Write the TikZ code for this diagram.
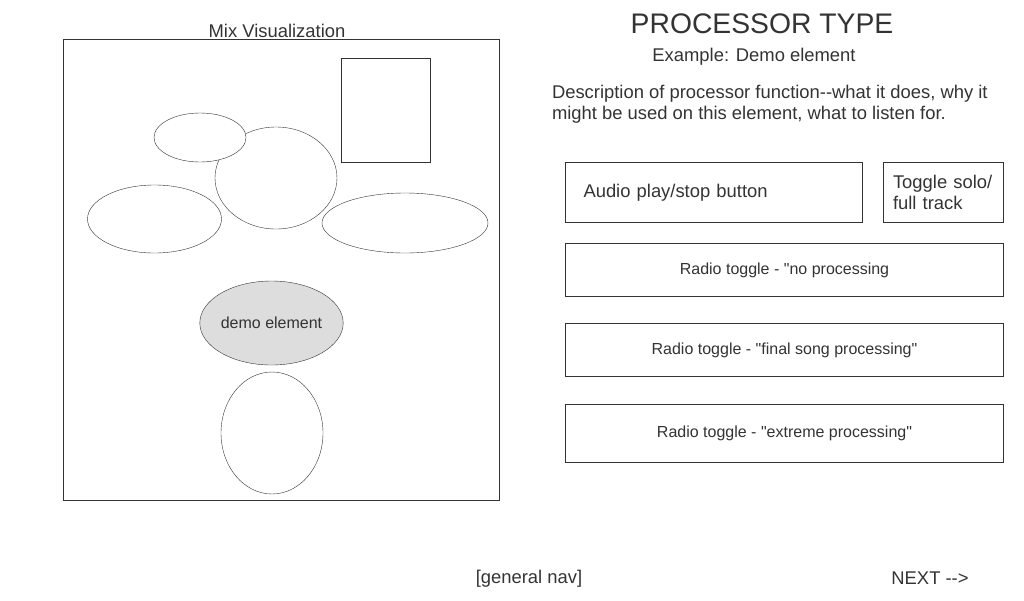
\documentclass[tikz,border=0pt]{standalone}
\usepackage{fontspec}
\setmainfont{Liberation Sans}[Ligatures=TeXOff]
\usetikzlibrary{shapes.geometric}
\definecolor{ink}{HTML}{333333}
\definecolor{demofill}{HTML}{DDDDDD}

\begin{document}
\begin{tikzpicture}
  [x=1pt,y=-1pt,
   every node/.style={text=ink,inner sep=0pt,outer sep=0pt},
   box/.style={draw=ink,rectangle,minimum width=#1},
   blob/.style={draw=ink,ellipse,fill=white},
   big/.style={font=\fontsize{18.4}{21}\selectfont},
   small/.style={font=\fontsize{16}{19}\selectfont}]
  \useasboundingbox (0,0) rectangle (1024,600);
  % mix visualization
  \node[big] (mixtitle) at (277,31) {Mix Visualization};
  \node[box=436,minimum height=461] (mix) at (281.5,270) {};
  \node[box=89,minimum height=104] (panel) at (386,110.5) {};
  \node[blob,minimum width=122,minimum height=102] (e2) at (276,178) {};
  \node[blob,minimum width=92,minimum height=49] (e1) at (200,137.5) {};
  \node[blob,minimum width=134,minimum height=68] (e3) at (154.5,219) {};
  \node[blob,minimum width=166,minimum height=60] (e4) at (405,223) {};
  \node[blob,fill=demofill,small,minimum width=143,minimum height=84] (demo) at (271.5,323) {demo element};
  \node[blob,minimum width=102,minimum height=122] (e5) at (272,433) {};
  % processor panel
  \node[font=\fontsize{28.3}{32}\selectfont] (title) at (762,23.5) {PROCESSOR TYPE};
  \node[big] (example) at (754,57) {Example: Demo element};
  \node[big,anchor=north west,align=left] (desc) at (552,85)
    {Description of processor function--what it does, why it\\might be used on this element, what to listen for.};
  \node[box=297,big,minimum height=60,text width=261,inner xsep=18,align=left] (play) at (714,192.5) {Audio play/stop button};
  \node[box=120,big,minimum height=60,text width=101,inner xsep=9.5,align=left] (solo) at (943.5,192.5) {Toggle solo/\\full track};
  \foreach \name/\y/\h/\label in {none/270/53/{Radio toggle - "no processing},
      final/350/53/{Radio toggle - "final song processing"},
      extreme/433.5/58/{Radio toggle - "extreme processing"}}
    \node[box=438,small,minimum height=\h] (\name) at (784.5,\y) {\label};
  % navigation
  \node[big] (nav) at (529,579) {[general nav]};
  \node[big] (next) at (930,578) {NEXT -->};
\end{tikzpicture}
\end{document}
